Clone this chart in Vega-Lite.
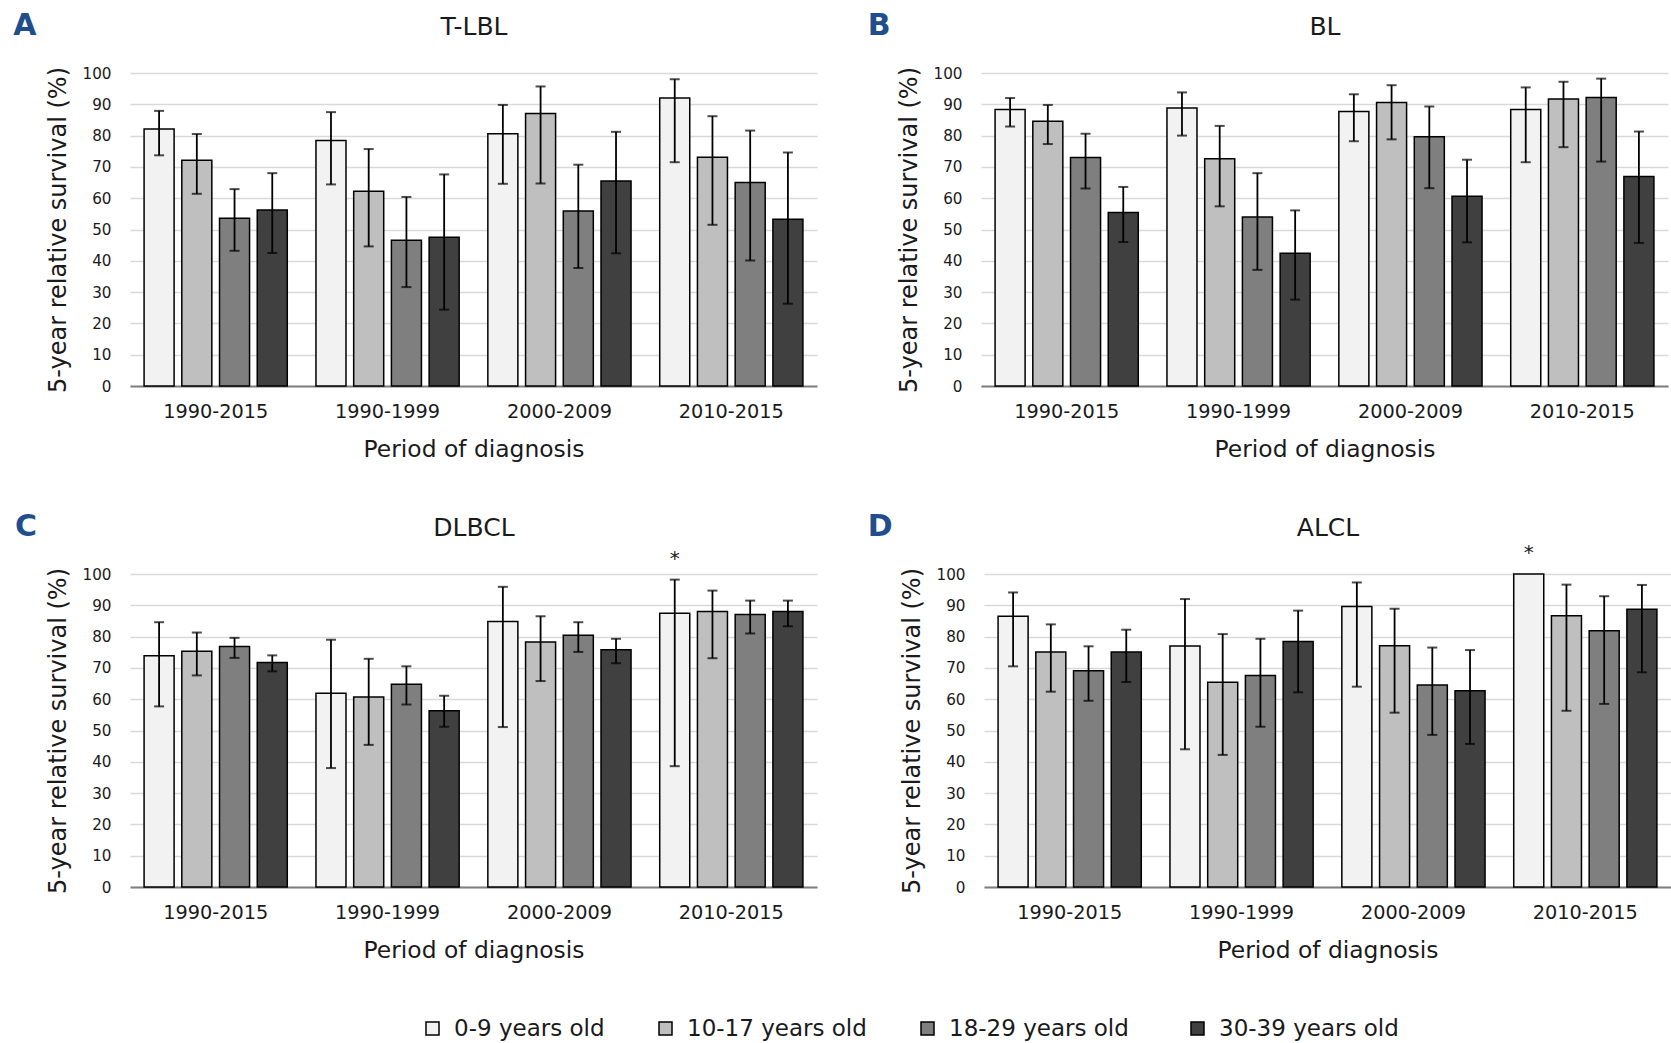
{
  "$schema": "https://vega.github.io/schema/vega-lite/v6.json",
  "padding": {"left": 13, "top": 10, "right": 0, "bottom": 0},
  "background": "white",
  "data": {"values": [
    {"panel": "T-LBL", "period": "1990-2015", "age": "0-9 years old", "survival": 82.1, "lower": 73.7, "upper": 87.9},
    {"panel": "T-LBL", "period": "1990-2015", "age": "10-17 years old", "survival": 72.1, "lower": 61.4, "upper": 80.5},
    {"panel": "T-LBL", "period": "1990-2015", "age": "18-29  years old", "survival": 53.6, "lower": 43.2, "upper": 62.9},
    {"panel": "T-LBL", "period": "1990-2015", "age": "30-39 years old", "survival": 56.2, "lower": 42.5, "upper": 68.0},
    {"panel": "T-LBL", "period": "1990-1999", "age": "0-9 years old", "survival": 78.4, "lower": 64.4, "upper": 87.5},
    {"panel": "T-LBL", "period": "1990-1999", "age": "10-17 years old", "survival": 62.2, "lower": 44.6, "upper": 75.7},
    {"panel": "T-LBL", "period": "1990-1999", "age": "18-29  years old", "survival": 46.6, "lower": 31.6, "upper": 60.4},
    {"panel": "T-LBL", "period": "1990-1999", "age": "30-39 years old", "survival": 47.5, "lower": 24.4, "upper": 67.6},
    {"panel": "T-LBL", "period": "2000-2009", "age": "0-9 years old", "survival": 80.6, "lower": 64.6, "upper": 89.8},
    {"panel": "T-LBL", "period": "2000-2009", "age": "10-17 years old", "survival": 87.1, "lower": 64.7, "upper": 95.7},
    {"panel": "T-LBL", "period": "2000-2009", "age": "18-29  years old", "survival": 55.9, "lower": 37.7, "upper": 70.7},
    {"panel": "T-LBL", "period": "2000-2009", "age": "30-39 years old", "survival": 65.5, "lower": 42.4, "upper": 81.2},
    {"panel": "T-LBL", "period": "2010-2015", "age": "0-9 years old", "survival": 92.0, "lower": 71.5, "upper": 98.0},
    {"panel": "T-LBL", "period": "2010-2015", "age": "10-17 years old", "survival": 73.1, "lower": 51.5, "upper": 86.2},
    {"panel": "T-LBL", "period": "2010-2015", "age": "18-29  years old", "survival": 65.0, "lower": 40.1, "upper": 81.6},
    {"panel": "T-LBL", "period": "2010-2015", "age": "30-39 years old", "survival": 53.3, "lower": 26.3, "upper": 74.6},
    {"panel": "BL", "period": "1990-2015", "age": "0-9 years old", "survival": 88.3, "lower": 82.9, "upper": 92.0},
    {"panel": "BL", "period": "1990-2015", "age": "10-17 years old", "survival": 84.6, "lower": 77.3, "upper": 89.8},
    {"panel": "BL", "period": "1990-2015", "age": "18-29  years old", "survival": 73.0, "lower": 63.1, "upper": 80.6},
    {"panel": "BL", "period": "1990-2015", "age": "30-39 years old", "survival": 55.4, "lower": 46.0, "upper": 63.6},
    {"panel": "BL", "period": "1990-1999", "age": "0-9 years old", "survival": 88.8, "lower": 80.0, "upper": 93.8},
    {"panel": "BL", "period": "1990-1999", "age": "10-17 years old", "survival": 72.6, "lower": 57.4, "upper": 83.1},
    {"panel": "BL", "period": "1990-1999", "age": "18-29  years old", "survival": 54.0, "lower": 37.1, "upper": 68.0},
    {"panel": "BL", "period": "1990-1999", "age": "30-39 years old", "survival": 42.4, "lower": 27.6, "upper": 56.1},
    {"panel": "BL", "period": "2000-2009", "age": "0-9 years old", "survival": 87.7, "lower": 78.2, "upper": 93.2},
    {"panel": "BL", "period": "2000-2009", "age": "10-17 years old", "survival": 90.6, "lower": 78.8, "upper": 96.1},
    {"panel": "BL", "period": "2000-2009", "age": "18-29  years old", "survival": 79.6, "lower": 63.2, "upper": 89.3},
    {"panel": "BL", "period": "2000-2009", "age": "30-39 years old", "survival": 60.6, "lower": 45.9, "upper": 72.3},
    {"panel": "BL", "period": "2010-2015", "age": "0-9 years old", "survival": 88.3, "lower": 71.5, "upper": 95.4},
    {"panel": "BL", "period": "2010-2015", "age": "10-17 years old", "survival": 91.7, "lower": 76.3, "upper": 97.2},
    {"panel": "BL", "period": "2010-2015", "age": "18-29  years old", "survival": 92.2, "lower": 71.7, "upper": 98.2},
    {"panel": "BL", "period": "2010-2015", "age": "30-39 years old", "survival": 66.9, "lower": 45.7, "upper": 81.3},
    {"panel": "DLBCL", "period": "1990-2015", "age": "0-9 years old", "survival": 73.9, "lower": 57.7, "upper": 84.6},
    {"panel": "DLBCL", "period": "1990-2015", "age": "10-17 years old", "survival": 75.3, "lower": 67.6, "upper": 81.3},
    {"panel": "DLBCL", "period": "1990-2015", "age": "18-29  years old", "survival": 76.8, "lower": 73.2, "upper": 79.6},
    {"panel": "DLBCL", "period": "1990-2015", "age": "30-39 years old", "survival": 71.7, "lower": 68.9, "upper": 74.0},
    {"panel": "DLBCL", "period": "1990-1999", "age": "0-9 years old", "survival": 61.9, "lower": 38.0, "upper": 79.0},
    {"panel": "DLBCL", "period": "1990-1999", "age": "10-17 years old", "survival": 60.7, "lower": 45.4, "upper": 72.9},
    {"panel": "DLBCL", "period": "1990-1999", "age": "18-29  years old", "survival": 64.8, "lower": 58.3, "upper": 70.5},
    {"panel": "DLBCL", "period": "1990-1999", "age": "30-39 years old", "survival": 56.3, "lower": 51.2, "upper": 61.1},
    {"panel": "DLBCL", "period": "2000-2009", "age": "0-9 years old", "survival": 84.8, "lower": 51.1, "upper": 95.9},
    {"panel": "DLBCL", "period": "2000-2009", "age": "10-17 years old", "survival": 78.3, "lower": 65.8, "upper": 86.5},
    {"panel": "DLBCL", "period": "2000-2009", "age": "18-29  years old", "survival": 80.4, "lower": 75.1, "upper": 84.6},
    {"panel": "DLBCL", "period": "2000-2009", "age": "30-39 years old", "survival": 75.8, "lower": 71.5, "upper": 79.3},
    {"panel": "DLBCL", "period": "2010-2015", "age": "0-9 years old", "survival": 87.5, "lower": 38.6, "upper": 98.2, "note": "*", "top": 98.2},
    {"panel": "DLBCL", "period": "2010-2015", "age": "10-17 years old", "survival": 88.0, "lower": 73.1, "upper": 94.7},
    {"panel": "DLBCL", "period": "2010-2015", "age": "18-29  years old", "survival": 87.1, "lower": 81.0, "upper": 91.5},
    {"panel": "DLBCL", "period": "2010-2015", "age": "30-39 years old", "survival": 88.0, "lower": 83.3, "upper": 91.5},
    {"panel": "ALCL", "period": "1990-2015", "age": "0-9 years old", "survival": 86.5, "lower": 70.5, "upper": 94.1},
    {"panel": "ALCL", "period": "1990-2015", "age": "10-17 years old", "survival": 75.1, "lower": 62.4, "upper": 83.9},
    {"panel": "ALCL", "period": "1990-2015", "age": "18-29  years old", "survival": 69.1, "lower": 59.5, "upper": 76.9},
    {"panel": "ALCL", "period": "1990-2015", "age": "30-39 years old", "survival": 75.1, "lower": 65.5, "upper": 82.2},
    {"panel": "ALCL", "period": "1990-1999", "age": "0-9 years old", "survival": 77.0, "lower": 44.0, "upper": 92.0},
    {"panel": "ALCL", "period": "1990-1999", "age": "10-17 years old", "survival": 65.4, "lower": 42.2, "upper": 80.8},
    {"panel": "ALCL", "period": "1990-1999", "age": "18-29  years old", "survival": 67.6, "lower": 51.2, "upper": 79.3},
    {"panel": "ALCL", "period": "1990-1999", "age": "30-39 years old", "survival": 78.4, "lower": 62.2, "upper": 88.3},
    {"panel": "ALCL", "period": "2000-2009", "age": "0-9 years old", "survival": 89.6, "lower": 64.0, "upper": 97.3},
    {"panel": "ALCL", "period": "2000-2009", "age": "10-17 years old", "survival": 77.1, "lower": 55.7, "upper": 88.9},
    {"panel": "ALCL", "period": "2000-2009", "age": "18-29  years old", "survival": 64.5, "lower": 48.6, "upper": 76.5},
    {"panel": "ALCL", "period": "2000-2009", "age": "30-39 years old", "survival": 62.7, "lower": 45.7, "upper": 75.7},
    {"panel": "ALCL", "period": "2010-2015", "age": "0-9 years old", "survival": 100, "lower": null, "upper": null, "note": "*", "top": 100},
    {"panel": "ALCL", "period": "2010-2015", "age": "10-17 years old", "survival": 86.7, "lower": 56.3, "upper": 96.6},
    {"panel": "ALCL", "period": "2010-2015", "age": "18-29  years old", "survival": 81.9, "lower": 58.5, "upper": 92.9},
    {"panel": "ALCL", "period": "2010-2015", "age": "30-39 years old", "survival": 88.7, "lower": 68.6, "upper": 96.5}
  ]},
  "spacing": 50,
  "vconcat": [
    {"spacing": 50, "hconcat": [
      {
        "width": 687, "height": 313,
        "title": {"text": "A", "orient": "left", "angle": 0, "anchor": "end", "frame": "group", "align": "center", "baseline": "middle", "dy": -47.5, "offset": -2, "fontSize": 30, "fontWeight": "bold", "color": "#1f4e8c"},
        "transform": [{"filter": "datum.panel === 'T-LBL'"}],
        "resolve": {"axis": {"x": "independent"}},
        "layer": [
          {"mark": {"type": "bar", "stroke": "black", "strokeWidth": 1.5},
           "encoding": {
             "x": {"field": "period", "type": "nominal", "sort": ["1990-2015", "1990-1999", "2000-2009", "2010-2015"], "scale": {"paddingInner": 0.123, "paddingOuter": 0.06}, "axis": {"orient": "bottom", "title": "Period of diagnosis", "labelAngle": 0, "ticks": false, "grid": false, "domainColor": "#7f7f7f", "domainWidth": 2, "labelPadding": 16, "titlePadding": 17, "labelFontSize": 19.3, "titleFontSize": 23.4}},
             "xOffset": {"field": "age", "type": "nominal", "sort": ["0-9 years old", "10-17 years old", "18-29  years old", "30-39 years old"], "scale": {"paddingInner": 0.204, "paddingOuter": 0.1}},
             "y": {"field": "survival", "type": "quantitative", "scale": {"domain": [0, 100], "nice": false}, "axis": {"title": "5-year relative survival (%)", "values": [0, 10, 20, 30, 40, 50, 60, 70, 80, 90, 100], "tickCount": 11, "labelOverlap": false, "grid": true, "gridColor": "#d9d9d9", "gridWidth": 1.5, "domain": false, "ticks": false, "labelPadding": 19, "titlePadding": 12, "labelFontSize": 15.2, "titleFontSize": 24}},
             "color": {"field": "age", "type": "nominal", "scale": {"domain": ["0-9 years old", "10-17 years old", "18-29  years old", "30-39 years old"], "range": ["#f2f2f2", "#bfbfbf", "#7f7f7f", "#404040"]}, "legend": {"orient": "none", "legendX": 291, "legendY": 944, "direction": "horizontal", "title": null, "padding": 0, "symbolType": "square", "symbolSize": 169, "symbolStrokeColor": "black", "symbolStrokeWidth": 1.5, "labelFontSize": 23, "labelLimit": 400, "columnPadding": 49, "labelOffset": 10, "gridAlign": "none"}}
           }},
          {"mark": {"type": "rule", "color": "black", "strokeWidth": 1.8},
           "transform": [{"filter": "isValid(datum.upper)"}],
           "encoding": {
             "x": {"field": "period", "type": "nominal", "sort": ["1990-2015", "1990-1999", "2000-2009", "2010-2015"], "axis": {"orient": "top", "title": "T-LBL", "labels": false, "ticks": false, "domain": false, "grid": false, "titleFontSize": 25, "titlePadding": 34}},
             "xOffset": {"field": "age", "type": "nominal", "sort": ["0-9 years old", "10-17 years old", "18-29  years old", "30-39 years old"]},
             "y": {"field": "upper", "type": "quantitative", "axis": {"title": "5-year relative survival (%)", "values": [0, 10, 20, 30, 40, 50, 60, 70, 80, 90, 100], "tickCount": 11, "labelOverlap": false, "grid": true, "gridColor": "#d9d9d9", "gridWidth": 1.5, "domain": false, "ticks": false, "labelPadding": 19, "titlePadding": 12, "labelFontSize": 15.2, "titleFontSize": 24}},
             "y2": {"field": "lower"}
           }},
          {"mark": {"type": "tick", "color": "black", "size": 10, "thickness": 2},
           "transform": [{"filter": "isValid(datum.upper)"}],
           "encoding": {
             "x": {"field": "period", "type": "nominal", "sort": ["1990-2015", "1990-1999", "2000-2009", "2010-2015"], "axis": null},
             "xOffset": {"field": "age", "type": "nominal", "sort": ["0-9 years old", "10-17 years old", "18-29  years old", "30-39 years old"]},
             "y": {"field": "upper", "type": "quantitative", "axis": {"title": "5-year relative survival (%)", "values": [0, 10, 20, 30, 40, 50, 60, 70, 80, 90, 100], "tickCount": 11, "labelOverlap": false, "grid": true, "gridColor": "#d9d9d9", "gridWidth": 1.5, "domain": false, "ticks": false, "labelPadding": 19, "titlePadding": 12, "labelFontSize": 15.2, "titleFontSize": 24}}
           }},
          {"mark": {"type": "tick", "color": "black", "size": 10, "thickness": 2},
           "transform": [{"filter": "isValid(datum.lower)"}],
           "encoding": {
             "x": {"field": "period", "type": "nominal", "sort": ["1990-2015", "1990-1999", "2000-2009", "2010-2015"], "axis": null},
             "xOffset": {"field": "age", "type": "nominal", "sort": ["0-9 years old", "10-17 years old", "18-29  years old", "30-39 years old"]},
             "y": {"field": "lower", "type": "quantitative", "axis": {"title": "5-year relative survival (%)", "values": [0, 10, 20, 30, 40, 50, 60, 70, 80, 90, 100], "tickCount": 11, "labelOverlap": false, "grid": true, "gridColor": "#d9d9d9", "gridWidth": 1.5, "domain": false, "ticks": false, "labelPadding": 19, "titlePadding": 12, "labelFontSize": 15.2, "titleFontSize": 24}}
           }}
        ]
      },
      {
        "width": 687, "height": 313,
        "title": {"text": "B", "orient": "left", "angle": 0, "anchor": "end", "frame": "group", "align": "center", "baseline": "middle", "dy": -47.5, "offset": -5, "fontSize": 30, "fontWeight": "bold", "color": "#1f4e8c"},
        "transform": [{"filter": "datum.panel === 'BL'"}],
        "resolve": {"axis": {"x": "independent"}},
        "layer": [
          {"mark": {"type": "bar", "stroke": "black", "strokeWidth": 1.5},
           "encoding": {
             "x": {"field": "period", "type": "nominal", "sort": ["1990-2015", "1990-1999", "2000-2009", "2010-2015"], "scale": {"paddingInner": 0.123, "paddingOuter": 0.06}, "axis": {"orient": "bottom", "title": "Period of diagnosis", "labelAngle": 0, "ticks": false, "grid": false, "domainColor": "#7f7f7f", "domainWidth": 2, "labelPadding": 16, "titlePadding": 17, "labelFontSize": 19.3, "titleFontSize": 23.4}},
             "xOffset": {"field": "age", "type": "nominal", "sort": ["0-9 years old", "10-17 years old", "18-29  years old", "30-39 years old"], "scale": {"paddingInner": 0.204, "paddingOuter": 0.1}},
             "y": {"field": "survival", "type": "quantitative", "scale": {"domain": [0, 100], "nice": false}, "axis": {"title": "5-year relative survival (%)", "values": [0, 10, 20, 30, 40, 50, 60, 70, 80, 90, 100], "tickCount": 11, "labelOverlap": false, "grid": true, "gridColor": "#d9d9d9", "gridWidth": 1.5, "domain": false, "ticks": false, "labelPadding": 19, "titlePadding": 12, "labelFontSize": 15.2, "titleFontSize": 24}},
             "color": {"field": "age", "type": "nominal", "scale": {"domain": ["0-9 years old", "10-17 years old", "18-29  years old", "30-39 years old"], "range": ["#f2f2f2", "#bfbfbf", "#7f7f7f", "#404040"]}}
           }},
          {"mark": {"type": "rule", "color": "black", "strokeWidth": 1.8},
           "transform": [{"filter": "isValid(datum.upper)"}],
           "encoding": {
             "x": {"field": "period", "type": "nominal", "sort": ["1990-2015", "1990-1999", "2000-2009", "2010-2015"], "axis": {"orient": "top", "title": "BL", "labels": false, "ticks": false, "domain": false, "grid": false, "titleFontSize": 25, "titlePadding": 34}},
             "xOffset": {"field": "age", "type": "nominal", "sort": ["0-9 years old", "10-17 years old", "18-29  years old", "30-39 years old"]},
             "y": {"field": "upper", "type": "quantitative", "axis": {"title": "5-year relative survival (%)", "values": [0, 10, 20, 30, 40, 50, 60, 70, 80, 90, 100], "tickCount": 11, "labelOverlap": false, "grid": true, "gridColor": "#d9d9d9", "gridWidth": 1.5, "domain": false, "ticks": false, "labelPadding": 19, "titlePadding": 12, "labelFontSize": 15.2, "titleFontSize": 24}},
             "y2": {"field": "lower"}
           }},
          {"mark": {"type": "tick", "color": "black", "size": 10, "thickness": 2},
           "transform": [{"filter": "isValid(datum.upper)"}],
           "encoding": {
             "x": {"field": "period", "type": "nominal", "sort": ["1990-2015", "1990-1999", "2000-2009", "2010-2015"], "axis": null},
             "xOffset": {"field": "age", "type": "nominal", "sort": ["0-9 years old", "10-17 years old", "18-29  years old", "30-39 years old"]},
             "y": {"field": "upper", "type": "quantitative", "axis": {"title": "5-year relative survival (%)", "values": [0, 10, 20, 30, 40, 50, 60, 70, 80, 90, 100], "tickCount": 11, "labelOverlap": false, "grid": true, "gridColor": "#d9d9d9", "gridWidth": 1.5, "domain": false, "ticks": false, "labelPadding": 19, "titlePadding": 12, "labelFontSize": 15.2, "titleFontSize": 24}}
           }},
          {"mark": {"type": "tick", "color": "black", "size": 10, "thickness": 2},
           "transform": [{"filter": "isValid(datum.lower)"}],
           "encoding": {
             "x": {"field": "period", "type": "nominal", "sort": ["1990-2015", "1990-1999", "2000-2009", "2010-2015"], "axis": null},
             "xOffset": {"field": "age", "type": "nominal", "sort": ["0-9 years old", "10-17 years old", "18-29  years old", "30-39 years old"]},
             "y": {"field": "lower", "type": "quantitative", "axis": {"title": "5-year relative survival (%)", "values": [0, 10, 20, 30, 40, 50, 60, 70, 80, 90, 100], "tickCount": 11, "labelOverlap": false, "grid": true, "gridColor": "#d9d9d9", "gridWidth": 1.5, "domain": false, "ticks": false, "labelPadding": 19, "titlePadding": 12, "labelFontSize": 15.2, "titleFontSize": 24}}
           }}
        ]
      }
    ]},
    {"spacing": 50, "hconcat": [
      {
        "width": 687, "height": 313,
        "title": {"text": "C", "orient": "left", "angle": 0, "anchor": "end", "frame": "group", "align": "center", "baseline": "middle", "dy": -47.5, "offset": -2, "fontSize": 30, "fontWeight": "bold", "color": "#1f4e8c"},
        "transform": [{"filter": "datum.panel === 'DLBCL'"}],
        "resolve": {"axis": {"x": "independent"}},
        "layer": [
          {"mark": {"type": "bar", "stroke": "black", "strokeWidth": 1.5},
           "encoding": {
             "x": {"field": "period", "type": "nominal", "sort": ["1990-2015", "1990-1999", "2000-2009", "2010-2015"], "scale": {"paddingInner": 0.123, "paddingOuter": 0.06}, "axis": {"orient": "bottom", "title": "Period of diagnosis", "labelAngle": 0, "ticks": false, "grid": false, "domainColor": "#7f7f7f", "domainWidth": 2, "labelPadding": 16, "titlePadding": 17, "labelFontSize": 19.3, "titleFontSize": 23.4}},
             "xOffset": {"field": "age", "type": "nominal", "sort": ["0-9 years old", "10-17 years old", "18-29  years old", "30-39 years old"], "scale": {"paddingInner": 0.204, "paddingOuter": 0.1}},
             "y": {"field": "survival", "type": "quantitative", "scale": {"domain": [0, 100], "nice": false}, "axis": {"title": "5-year relative survival (%)", "values": [0, 10, 20, 30, 40, 50, 60, 70, 80, 90, 100], "tickCount": 11, "labelOverlap": false, "grid": true, "gridColor": "#d9d9d9", "gridWidth": 1.5, "domain": false, "ticks": false, "labelPadding": 19, "titlePadding": 12, "labelFontSize": 15.2, "titleFontSize": 24}},
             "color": {"field": "age", "type": "nominal", "scale": {"domain": ["0-9 years old", "10-17 years old", "18-29  years old", "30-39 years old"], "range": ["#f2f2f2", "#bfbfbf", "#7f7f7f", "#404040"]}}
           }},
          {"mark": {"type": "rule", "color": "black", "strokeWidth": 1.8},
           "transform": [{"filter": "isValid(datum.upper)"}],
           "encoding": {
             "x": {"field": "period", "type": "nominal", "sort": ["1990-2015", "1990-1999", "2000-2009", "2010-2015"], "axis": {"orient": "top", "title": "DLBCL", "labels": false, "ticks": false, "domain": false, "grid": false, "titleFontSize": 25, "titlePadding": 34}},
             "xOffset": {"field": "age", "type": "nominal", "sort": ["0-9 years old", "10-17 years old", "18-29  years old", "30-39 years old"]},
             "y": {"field": "upper", "type": "quantitative", "axis": {"title": "5-year relative survival (%)", "values": [0, 10, 20, 30, 40, 50, 60, 70, 80, 90, 100], "tickCount": 11, "labelOverlap": false, "grid": true, "gridColor": "#d9d9d9", "gridWidth": 1.5, "domain": false, "ticks": false, "labelPadding": 19, "titlePadding": 12, "labelFontSize": 15.2, "titleFontSize": 24}},
             "y2": {"field": "lower"}
           }},
          {"mark": {"type": "tick", "color": "black", "size": 10, "thickness": 2},
           "transform": [{"filter": "isValid(datum.upper)"}],
           "encoding": {
             "x": {"field": "period", "type": "nominal", "sort": ["1990-2015", "1990-1999", "2000-2009", "2010-2015"], "axis": null},
             "xOffset": {"field": "age", "type": "nominal", "sort": ["0-9 years old", "10-17 years old", "18-29  years old", "30-39 years old"]},
             "y": {"field": "upper", "type": "quantitative", "axis": {"title": "5-year relative survival (%)", "values": [0, 10, 20, 30, 40, 50, 60, 70, 80, 90, 100], "tickCount": 11, "labelOverlap": false, "grid": true, "gridColor": "#d9d9d9", "gridWidth": 1.5, "domain": false, "ticks": false, "labelPadding": 19, "titlePadding": 12, "labelFontSize": 15.2, "titleFontSize": 24}}
           }},
          {"mark": {"type": "tick", "color": "black", "size": 10, "thickness": 2},
           "transform": [{"filter": "isValid(datum.lower)"}],
           "encoding": {
             "x": {"field": "period", "type": "nominal", "sort": ["1990-2015", "1990-1999", "2000-2009", "2010-2015"], "axis": null},
             "xOffset": {"field": "age", "type": "nominal", "sort": ["0-9 years old", "10-17 years old", "18-29  years old", "30-39 years old"]},
             "y": {"field": "lower", "type": "quantitative", "axis": {"title": "5-year relative survival (%)", "values": [0, 10, 20, 30, 40, 50, 60, 70, 80, 90, 100], "tickCount": 11, "labelOverlap": false, "grid": true, "gridColor": "#d9d9d9", "gridWidth": 1.5, "domain": false, "ticks": false, "labelPadding": 19, "titlePadding": 12, "labelFontSize": 15.2, "titleFontSize": 24}}
           }},
          {"mark": {"type": "text", "baseline": "middle", "dy": -21, "fontSize": 20, "color": "#1a1a1a"},
           "transform": [{"filter": "isValid(datum.top)"}],
           "encoding": {
             "x": {"field": "period", "type": "nominal", "sort": ["1990-2015", "1990-1999", "2000-2009", "2010-2015"], "axis": null},
             "xOffset": {"field": "age", "type": "nominal", "sort": ["0-9 years old", "10-17 years old", "18-29  years old", "30-39 years old"]},
             "y": {"field": "top", "type": "quantitative", "axis": {"title": "5-year relative survival (%)", "values": [0, 10, 20, 30, 40, 50, 60, 70, 80, 90, 100], "tickCount": 11, "labelOverlap": false, "grid": true, "gridColor": "#d9d9d9", "gridWidth": 1.5, "domain": false, "ticks": false, "labelPadding": 19, "titlePadding": 12, "labelFontSize": 15.2, "titleFontSize": 24}},
             "text": {"field": "note"}
           }}
        ]
      },
      {
        "width": 687, "height": 313,
        "title": {"text": "D", "orient": "left", "angle": 0, "anchor": "end", "frame": "group", "align": "center", "baseline": "middle", "dy": -47.5, "offset": -5, "fontSize": 30, "fontWeight": "bold", "color": "#1f4e8c"},
        "transform": [{"filter": "datum.panel === 'ALCL'"}],
        "resolve": {"axis": {"x": "independent"}},
        "layer": [
          {"mark": {"type": "bar", "stroke": "black", "strokeWidth": 1.5},
           "encoding": {
             "x": {"field": "period", "type": "nominal", "sort": ["1990-2015", "1990-1999", "2000-2009", "2010-2015"], "scale": {"paddingInner": 0.123, "paddingOuter": 0.06}, "axis": {"orient": "bottom", "title": "Period of diagnosis", "labelAngle": 0, "ticks": false, "grid": false, "domainColor": "#7f7f7f", "domainWidth": 2, "labelPadding": 16, "titlePadding": 17, "labelFontSize": 19.3, "titleFontSize": 23.4}},
             "xOffset": {"field": "age", "type": "nominal", "sort": ["0-9 years old", "10-17 years old", "18-29  years old", "30-39 years old"], "scale": {"paddingInner": 0.204, "paddingOuter": 0.1}},
             "y": {"field": "survival", "type": "quantitative", "scale": {"domain": [0, 100], "nice": false}, "axis": {"title": "5-year relative survival (%)", "values": [0, 10, 20, 30, 40, 50, 60, 70, 80, 90, 100], "tickCount": 11, "labelOverlap": false, "grid": true, "gridColor": "#d9d9d9", "gridWidth": 1.5, "domain": false, "ticks": false, "labelPadding": 19, "titlePadding": 12, "labelFontSize": 15.2, "titleFontSize": 24}},
             "color": {"field": "age", "type": "nominal", "scale": {"domain": ["0-9 years old", "10-17 years old", "18-29  years old", "30-39 years old"], "range": ["#f2f2f2", "#bfbfbf", "#7f7f7f", "#404040"]}}
           }},
          {"mark": {"type": "rule", "color": "black", "strokeWidth": 1.8},
           "transform": [{"filter": "isValid(datum.upper)"}],
           "encoding": {
             "x": {"field": "period", "type": "nominal", "sort": ["1990-2015", "1990-1999", "2000-2009", "2010-2015"], "axis": {"orient": "top", "title": "ALCL", "labels": false, "ticks": false, "domain": false, "grid": false, "titleFontSize": 25, "titlePadding": 34}},
             "xOffset": {"field": "age", "type": "nominal", "sort": ["0-9 years old", "10-17 years old", "18-29  years old", "30-39 years old"]},
             "y": {"field": "upper", "type": "quantitative", "axis": {"title": "5-year relative survival (%)", "values": [0, 10, 20, 30, 40, 50, 60, 70, 80, 90, 100], "tickCount": 11, "labelOverlap": false, "grid": true, "gridColor": "#d9d9d9", "gridWidth": 1.5, "domain": false, "ticks": false, "labelPadding": 19, "titlePadding": 12, "labelFontSize": 15.2, "titleFontSize": 24}},
             "y2": {"field": "lower"}
           }},
          {"mark": {"type": "tick", "color": "black", "size": 10, "thickness": 2},
           "transform": [{"filter": "isValid(datum.upper)"}],
           "encoding": {
             "x": {"field": "period", "type": "nominal", "sort": ["1990-2015", "1990-1999", "2000-2009", "2010-2015"], "axis": null},
             "xOffset": {"field": "age", "type": "nominal", "sort": ["0-9 years old", "10-17 years old", "18-29  years old", "30-39 years old"]},
             "y": {"field": "upper", "type": "quantitative", "axis": {"title": "5-year relative survival (%)", "values": [0, 10, 20, 30, 40, 50, 60, 70, 80, 90, 100], "tickCount": 11, "labelOverlap": false, "grid": true, "gridColor": "#d9d9d9", "gridWidth": 1.5, "domain": false, "ticks": false, "labelPadding": 19, "titlePadding": 12, "labelFontSize": 15.2, "titleFontSize": 24}}
           }},
          {"mark": {"type": "tick", "color": "black", "size": 10, "thickness": 2},
           "transform": [{"filter": "isValid(datum.lower)"}],
           "encoding": {
             "x": {"field": "period", "type": "nominal", "sort": ["1990-2015", "1990-1999", "2000-2009", "2010-2015"], "axis": null},
             "xOffset": {"field": "age", "type": "nominal", "sort": ["0-9 years old", "10-17 years old", "18-29  years old", "30-39 years old"]},
             "y": {"field": "lower", "type": "quantitative", "axis": {"title": "5-year relative survival (%)", "values": [0, 10, 20, 30, 40, 50, 60, 70, 80, 90, 100], "tickCount": 11, "labelOverlap": false, "grid": true, "gridColor": "#d9d9d9", "gridWidth": 1.5, "domain": false, "ticks": false, "labelPadding": 19, "titlePadding": 12, "labelFontSize": 15.2, "titleFontSize": 24}}
           }},
          {"mark": {"type": "text", "baseline": "middle", "dy": -21, "fontSize": 20, "color": "#1a1a1a"},
           "transform": [{"filter": "isValid(datum.top)"}],
           "encoding": {
             "x": {"field": "period", "type": "nominal", "sort": ["1990-2015", "1990-1999", "2000-2009", "2010-2015"], "axis": null},
             "xOffset": {"field": "age", "type": "nominal", "sort": ["0-9 years old", "10-17 years old", "18-29  years old", "30-39 years old"]},
             "y": {"field": "top", "type": "quantitative", "axis": {"title": "5-year relative survival (%)", "values": [0, 10, 20, 30, 40, 50, 60, 70, 80, 90, 100], "tickCount": 11, "labelOverlap": false, "grid": true, "gridColor": "#d9d9d9", "gridWidth": 1.5, "domain": false, "ticks": false, "labelPadding": 19, "titlePadding": 12, "labelFontSize": 15.2, "titleFontSize": 24}},
             "text": {"field": "note"}
           }}
        ]
      }
    ]}
  ],
  "config": {
    "font": "DejaVu Sans",
    "view": {"stroke": null},
    "axis": {"labelColor": "#1a1a1a", "titleColor": "#1a1a1a", "titleFontWeight": "normal", "labelFont": "DejaVu Sans", "titleFont": "DejaVu Sans"},
    "axisY": {"tickCount": 11, "labelOverlap": false},
    "legend": {"labelColor": "#1a1a1a", "labelFont": "DejaVu Sans"},
    "title": {"font": "DejaVu Sans"}
  }
}
